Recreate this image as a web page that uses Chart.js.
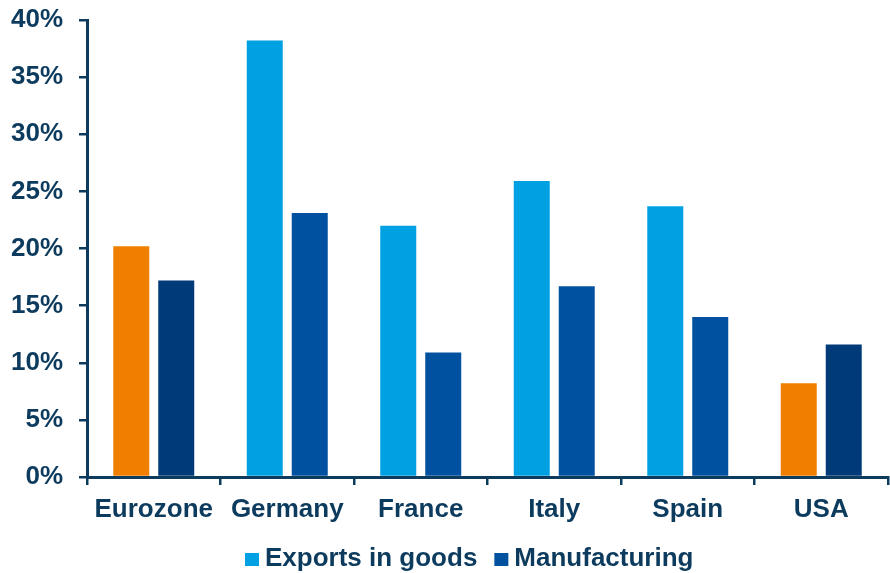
<!DOCTYPE html>
<html lang="en">
<head>
    <meta charset="UTF-8">
    <title>Exports and manufacturing share</title>
    <script src="https://cdn.jsdelivr.net/npm/chart.js"></script>
    <style>
        body { margin: 0; background: #fff; }
        #wrap { width: 890px; height: 573px; }
    </style>
</head>
<body>
<div id="wrap"><canvas id="myChart" width="890" height="573"></canvas></div>

<script>
    // shares in % of GDP
    const countries = ['Eurozone', 'Germany', 'France', 'Italy', 'Spain', 'USA'];
    const exportsGoods = [20.2, 38.2, 22.0, 25.9, 23.7, 8.2];
    const manufacturing = [17.2, 23.1, 10.9, 16.7, 14.0, 11.6];
    const seriesNames = ['Exports in goods', 'Manufacturing'];
    const yTicks = [0, 5, 10, 15, 20, 25, 30, 35, 40];

    const navy = '#0d3b5e';
    const lightBlue = '#00a1e2';
    const midBlue = '#0051a0';
    const darkBlue = '#003a78';
    const orange = '#f07f00';

    // Eurozone and USA get their own colours
    const special = c => c === 'Eurozone' || c === 'USA';
    const exportColors = countries.map(c => special(c) ? orange : lightBlue);
    const manuColors = countries.map(c => special(c) ? darkBlue : midBlue);

    const font = { family: 'Liberation Sans, Arial, sans-serif', size: 26, weight: 'bold' };

    // simple legend under the x axis, slightly right of centre
    const bottomLegend = {
        id: 'bottomLegend',
        afterDraw(chart) {
            const c = chart.ctx;
            const items = [[seriesNames[0], lightBlue], [seriesNames[1], midBlue]];
            c.save();
            c.font = 'bold 26px "Liberation Sans", Arial, sans-serif';
            c.textBaseline = 'alphabetic';
            c.fillStyle = navy;
            let x = 245;
            const y = 566;
            items.forEach(([text, col]) => {
                c.fillStyle = col;
                c.fillRect(x, y - 13, 14, 13);
                x += 20;
                c.fillStyle = navy;
                c.fillText(text, x, y);
                x += c.measureText(text).width + 17;
            });
            c.restore();
        }
    };

    const ctx = document.getElementById('myChart').getContext('2d');
    new Chart(ctx, {
        type: 'bar',
        data: {
            labels: countries,
            datasets: [
                { label: seriesNames[0], data: exportsGoods, backgroundColor: exportColors },
                { label: seriesNames[1], data: manufacturing, backgroundColor: manuColors }
            ]
        },
        options: {
            responsive: false,
            animation: false,
            layout: { padding: { top: 20, right: 2, bottom: 34, left: 0 } },
            datasets: { bar: { categoryPercentage: 0.674, barPercentage: 0.8 } },
            plugins: {
                tooltip: { enabled: false },
                legend: { display: false }
            },
            scales: {
                x: {
                    grid: { display: true, drawOnChartArea: false, drawTicks: true, tickLength: 8, color: navy, lineWidth: 2.5 },
                    border: { display: true, color: navy, width: 3 },
                    ticks: { font: font, color: navy, padding: 9 },
                    afterFit: scale => { scale.height = 62; scale.paddingLeft = 0; scale.paddingRight = 0; }
                },
                y: {
                    min: 0,
                    max: 40,
                    afterBuildTicks: scale => { scale.ticks = yTicks.map(v => ({ value: v })); },
                    grid: { display: true, drawOnChartArea: false, drawTicks: true, tickLength: 8, color: navy, lineWidth: 2.5 },
                    border: { display: true, color: navy, width: 3 },
                    ticks: { font: font, color: navy, padding: 16, callback: v => v + '%' },
                    afterFit: scale => { scale.width = 87; scale.paddingTop = 0; scale.paddingBottom = 0; }
                }
            }
        },
        plugins: [bottomLegend]
    });
</script>
</body>
</html>
